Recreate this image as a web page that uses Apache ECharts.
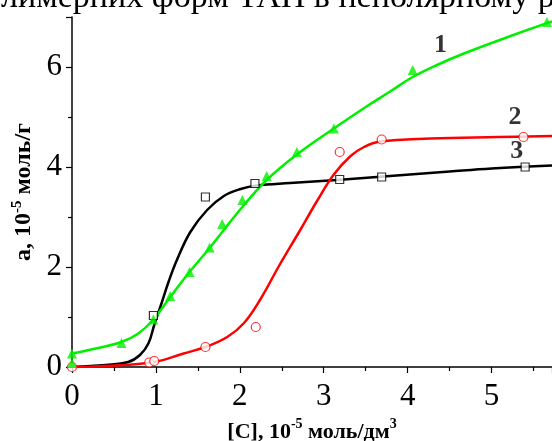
<!DOCTYPE html>
<html><head><meta charset="utf-8">
<script src="https://cdn.jsdelivr.net/npm/echarts@6/dist/echarts.min.js"></script>
<style>html,body{margin:0;padding:0;background:#fff}#c{width:552px;height:441px}</style>
</head><body><div id="c"></div>
<script>
// Curve 1 (green, triangles)
const s1Points = [[0,0.27],[0,0.08],[0.59,0.48],[0.97,0.95],[1.17,1.42],[1.40,1.90],[1.64,2.39],[1.79,2.86],[2.03,3.34],[2.32,3.82],[2.68,4.30],[3.12,4.77],[4.06,5.94],[5.66,6.90]];
const s1Curve = [[0,0.27],[0.2,0.34],[0.59,0.50],[0.79,0.67],[0.97,0.95],[1.17,1.40],[1.40,1.90],[1.64,2.38],[1.79,2.70],[2.03,3.20],[2.32,3.74],[2.68,4.25],[3.12,4.77],[3.5,5.20],[3.8,5.52],[4.06,5.80],[4.35,6.04],[4.67,6.27],[5.26,6.64],[5.72,6.91]];
// Curve 2 (red, circles)
const s2Points = [[0,0],[0.92,0.09],[0.98,0.12],[1.59,0.40],[2.19,0.80],[3.19,4.30],[3.69,4.55],[5.38,4.60]];
const s2Curve = [[0,0],[0.40,0.02],[0.98,0.10],[1.33,0.27],[1.59,0.40],[1.85,0.60],[2.05,0.88],[2.24,1.34],[2.48,2.06],[2.72,2.74],[2.92,3.32],[3.12,3.85],[3.32,4.22],[3.48,4.40],[3.67,4.51],[4.27,4.57],[5.07,4.60],[5.72,4.62]];
// Curve 3 (black, squares)
const s3Curve = [[0,0],[0.40,0.04],[0.67,0.10],[0.81,0.24],[0.91,0.47],[0.98,0.84],[1.06,1.24],[1.15,1.70],[1.25,2.14],[1.41,2.70],[1.61,3.14],[1.81,3.42],[2.01,3.56],[2.20,3.63],[2.60,3.68],[3.16,3.74],[3.79,3.82],[4.5,3.91],[5.0,3.97],[5.72,4.03]];
const s3Points = [[0.97,1.03],[1.59,3.40],[2.18,3.67],[3.19,3.75],[3.69,3.80],[5.40,4.00]];
// Curve labels
const curveLabels = [["1",4.39,6.44],["2",5.28,5.0],["3",5.30,4.32]];
const xTicks = [0,1,2,3,4,5];
const yTicks = [0,2,4,6];
const titleText = "лимерних форм ТАН в неполярному р";

const chart = echarts.init(document.getElementById('c'));
const F = "'Liberation Serif', 'Times New Roman', serif";
const lineCommon = {smooth:0.4, showSymbol:false};
chart.setOption({
  animation:false,
  backgroundColor:'#fff',
  grid:{left:72, top:17, right:0, bottom:74, outerBoundsMode:'none', containLabel:false},
  xAxis:{type:'value', min:0, max:5.72, interval:1,
    axisLine:{lineStyle:{color:'#000', width:1.5}},
    axisTick:{length:6, lineStyle:{color:'#000', width:1.2}},
    minorTick:{show:true, splitNumber:2, length:4, lineStyle:{color:'#000', width:1.2}},
    splitLine:{show:false},
    axisLabel:{color:'#000', fontFamily:F, fontSize:31, margin:14,
      formatter:v=>xTicks.includes(v)?String(v):''},
    name:'{b|[C], 10}{s|-5}{b| моль/дм}{s|3}', nameLocation:'middle', nameGap:49,
    nameTextStyle:{rich:{b:{fontFamily:F, fontWeight:'bold', fontSize:22, color:'#000', verticalAlign:'bottom', lineHeight:26},
                         s:{fontFamily:F, fontWeight:'bold', fontSize:14, color:'#000', verticalAlign:'top', lineHeight:26}}}
  },
  yAxis:{type:'value', min:0, max:7, interval:2,
    axisLine:{show:true, lineStyle:{color:'#000', width:1.5}},
    axisTick:{show:true, length:6, lineStyle:{color:'#000', width:1.2}},
    minorTick:{show:true, splitNumber:2, length:4, lineStyle:{color:'#000', width:1.2}},
    splitLine:{show:false},
    axisLabel:{color:'#000', fontFamily:F, fontSize:31, margin:10,
      formatter:v=>yTicks.includes(v)?String(v):''},
    name:'{b|a, 10}{s|-5}{b| моль/г}', nameLocation:'middle', nameGap:22, nameRotate:90,
    nameTextStyle:{rich:{b:{fontFamily:F, fontWeight:'bold', fontSize:24, color:'#000', verticalAlign:'bottom', lineHeight:26},
                         s:{fontFamily:F, fontWeight:'bold', fontSize:15, color:'#000', verticalAlign:'top', lineHeight:26}}}
  },
  series:[
    Object.assign({type:'line', data:s3Curve, lineStyle:{color:'#000', width:2.5}, z:2}, lineCommon),
    Object.assign({type:'line', data:s2Curve, lineStyle:{color:'#ff0000', width:2.5}, z:3}, lineCommon),
    Object.assign({type:'line', data:s1Curve, lineStyle:{color:'#00f000', width:2.5}, z:4}, lineCommon),
    {type:'scatter', data:s3Points, symbol:'rect', symbolSize:8, itemStyle:{color:'#fff', borderColor:'#000', borderWidth:1.2}, z:5},
    {type:'scatter', data:s2Points, symbol:'circle', symbolSize:9, itemStyle:{color:'#fff', borderColor:'#ff0000', borderWidth:1.2}, z:5},
    {type:'scatter', data:s1Points, symbol:'triangle', symbolSize:10, itemStyle:{color:'#00f000'}, z:6},
    {type:'scatter', data:curveLabels.map(l=>({name:l[0], value:[l[1],l[2]]})), symbolSize:0,
      label:{show:true, position:'inside', formatter:p=>p.name, fontFamily:F, fontWeight:'bold', fontSize:26, color:'#000'}, z:7}
  ],
  graphic:[{type:'text', x:1, y:-19, z:100,
    style:{text:titleText, font:"34px 'Liberation Serif'", fill:'#000', textVerticalAlign:'top'}}]
});
</script></body></html>
